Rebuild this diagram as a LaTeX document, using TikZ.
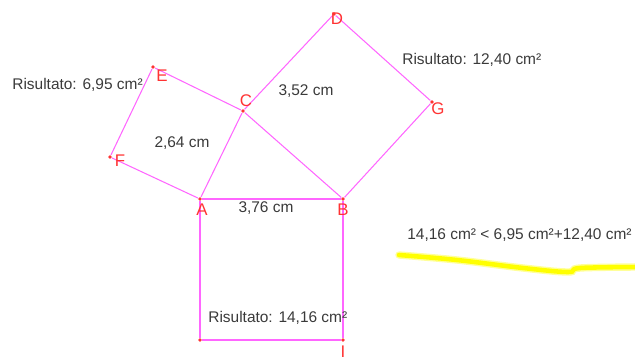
\documentclass[tikz,border=0pt]{standalone}
\usepackage{fontspec}
\setmainfont{Liberation Sans}
\definecolor{geoline}{HTML}{FF66FF}
\definecolor{geopoint}{HTML}{FF3333}
\definecolor{geotext}{HTML}{3A3A3A}
\definecolor{marker}{HTML}{FFFF00}
\definecolor{markerglow}{HTML}{FFFF99}
\tikzset{
  side/.style={draw=geoline, line width=0.6pt},
  pt/.style={circle, fill=geopoint, inner sep=0pt, minimum size=2.2pt},
  lbl/.style={text=geopoint, font=\fontsize{9.6}{11}\selectfont, inner sep=0pt},
  txt/.style={text=geotext, font=\fontsize{8.8}{10}\selectfont, inner sep=0pt}
}
\begin{document}
\begin{tikzpicture}[x=0.02cm, y=-0.02cm]
        \useasboundingbox (0,0) rectangle (635,356);
        \node[pt] (A) at (200,199) {};
        \node[pt] (B) at (343,199) {};
        \node[pt] (C) at (243,111) {};
        \node[pt] (D) at (334,14) {};
        \node[pt] (G) at (432,102) {};
        \node[pt] (E) at (153,67) {};
        \node[pt] (F) at (110,157) {};
        \node[pt] (H) at (200,340) {};
        \node[pt] (I) at (343,340) {};
        \draw[side] (A) -- (B);
        \draw[side] (B) -- (C);
        \draw[side] (C) -- (A);
        \draw[side] (A) -- (F);
        \draw[side] (F) -- (E);
        \draw[side] (E) -- (C);
        \draw[side] (C) -- (D);
        \draw[side] (D) -- (G);
        \draw[side] (G) -- (B);
        \draw[side] (A) -- (H);
        \draw[side] (H) -- (I);
        \draw[side] (I) -- (B);
        \node[lbl] (labA) at (202,210) {A};
        \node[lbl] (labB) at (343,210) {B};
        \node[lbl] (labC) at (246,101) {C};
        \node[lbl] (labD) at (337,19) {D};
        \node[lbl] (labG) at (438,109) {G};
        \node[lbl] (labE) at (162,76) {E};
        \node[lbl] (labF) at (120,161) {F};
        \node[lbl] (labI) at (343,352) {I};
        \node[txt] (sideAC) at (182,143) {2,64 cm};
        \node[txt] (sideBC) at (306,91) {3,52 cm};
        \node[txt] (sideAB) at (266,208) {3,76 cm};
        \node[txt, anchor=west] (areaAC) at (12,85) {Risultato: 6,95 cm²};
        \node[txt, anchor=west] (areaBC) at (402,60) {Risultato: 12,40 cm²};
        \node[txt, anchor=west] (areaAB) at (208,318) {Risultato: 14,16 cm²};
        \node[txt, anchor=west] (compare) at (407,235) {14,16 cm² < 6,95 cm²+12,40 cm²};
        % highlighter stroke
        \draw[markerglow, line width=4.2pt, line cap=round] plot[smooth, tension=0.6] coordinates {(399,255) (457,260) (523,268) (568,272) (580,268) (640,267)};
        \draw[marker, line width=2.6pt, line cap=round] plot[smooth, tension=0.6] coordinates {(399,255) (457,260) (523,268) (568,272) (580,268) (640,267)};
    \end{tikzpicture}
\end{document}
